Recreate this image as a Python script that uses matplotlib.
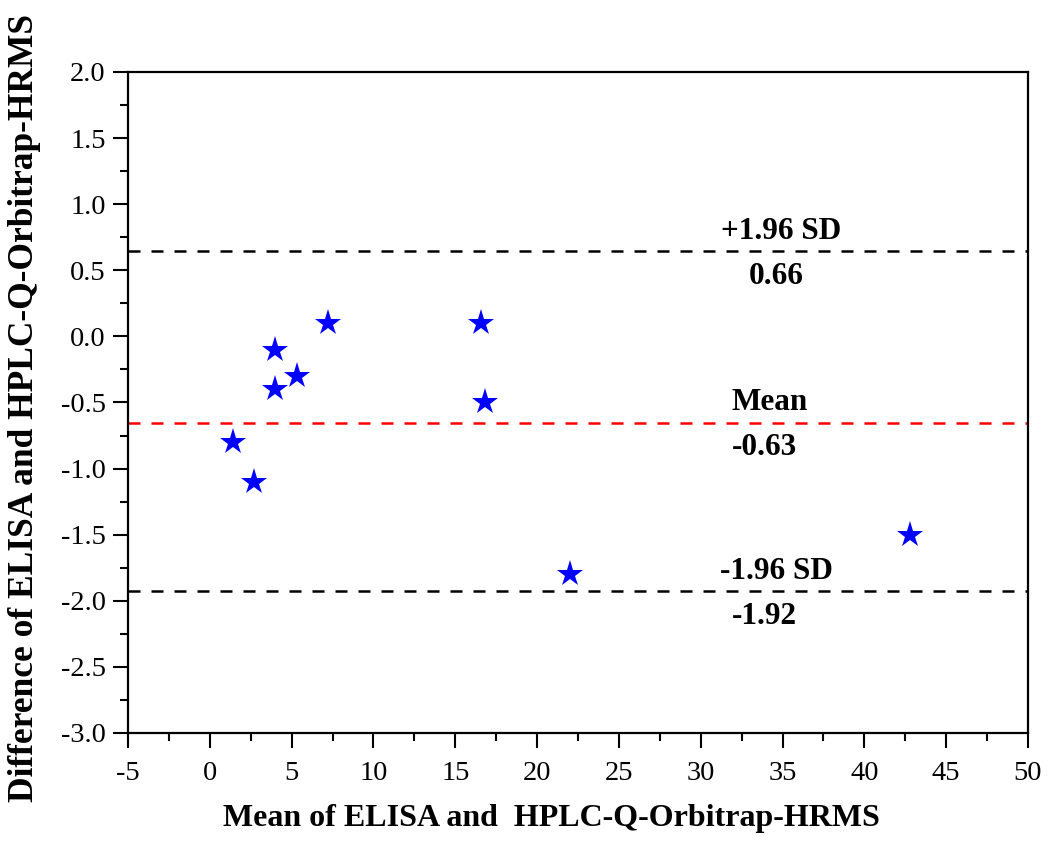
import matplotlib
matplotlib.use("Agg")
import matplotlib.pyplot as plt
from matplotlib.ticker import MultipleLocator

plt.rcParams["font.family"] = ["Liberation Serif", "DejaVu Serif"]

# Bland-Altman data
mean_vals = [7.2, 4.0, 5.3, 4.0, 16.6, 16.8, 1.4, 2.7, 22.0, 42.8]
diff_vals = [0.1, -0.1, -0.3, -0.4, 0.1, -0.5, -0.8, -1.1, -1.8, -1.5]

upper_loa = 0.645
mean_diff = -0.655
lower_loa = -1.925

upper_label = "0.66"
mean_label = "-0.63"
lower_label = "-1.92"

fig = plt.figure(figsize=(10.5, 8.46), dpi=100)
ax = fig.add_axes([0.1219, 0.1336, 0.979 - 0.1219, 0.9149 - 0.1336])

ax.plot(mean_vals, diff_vals, linestyle="none", marker="*", markersize=20,
        color="#0000ff", markeredgewidth=0)

ax.axhline(upper_loa, color="black", lw=1.8, linestyle=(0, (4.8, 4.4)))
ax.axhline(mean_diff, color="#ff0000", lw=1.8, linestyle=(0, (4.8, 4.4)))
ax.axhline(lower_loa, color="black", lw=1.8, linestyle=(0, (4.8, 4.4)))

txt = dict(ha="center", va="center", fontsize=22.5, fontweight="bold")
ax.text(34.9, 0.79, "+1.96 SD", **txt)
ax.text(34.6, 0.45, upper_label, **txt)
ax.text(34.2, -0.50, "Mean", **txt)
ax.text(33.9, -0.84, mean_label, **txt)
ax.text(34.6, -1.78, "-1.96 SD", **txt)
ax.text(33.9, -2.12, lower_label, **txt)

ax.set_xlim(-5, 50)
ax.set_ylim(-3, 2)
ax.xaxis.set_minor_locator(MultipleLocator(2.5))
ax.yaxis.set_minor_locator(MultipleLocator(0.25))
ax.set_xticks(range(-5, 51, 5))
ax.set_xticklabels([str(v) for v in range(-5, 51, 5)])
ax.set_yticks([v / 2 for v in range(-6, 5)])
ax.set_yticklabels([f"{v / 2:.1f}" for v in range(-6, 5)])

ax.tick_params(which="major", direction="out", length=11, width=1.5,
               labelsize=20.5, top=False, right=False)
ax.tick_params(axis="y", which="major", pad=5)
ax.tick_params(axis="x", which="major", pad=9)
ax.tick_params(which="minor", direction="out", length=6, width=1.5,
               top=False, right=False)
for s in ax.spines.values():
    s.set_linewidth(1.6)

ax.set_xlabel("Mean of ELISA and  HPLC-Q-Orbitrap-HRMS", fontsize=23,
              fontweight="bold")
ax.xaxis.set_label_coords(0.47, -0.108)
ax.set_ylabel("Difference of ELISA and HPLC-Q-Orbitrap-HRMS", fontsize=25.5,
              fontweight="bold")
ax.yaxis.set_label_coords(-0.097, 0.492)

fig.savefig("out.png", dpi=100)
